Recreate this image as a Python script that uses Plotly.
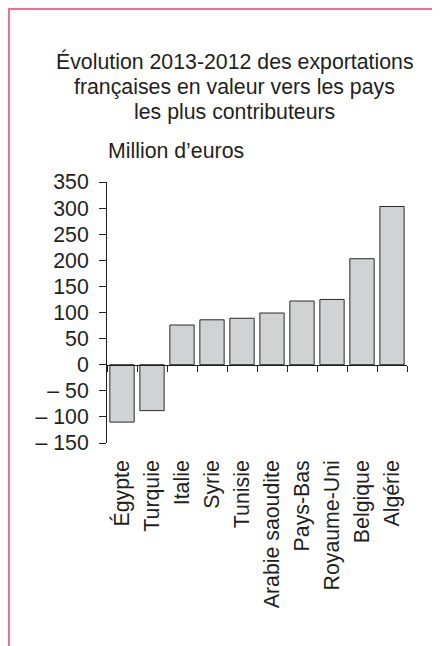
import plotly.graph_objects as go

categories = ["Égypte", "Turquie", "Italie", "Syrie", "Tunisie", "Arabie saoudite",
              "Pays-Bas", "Royaume-Uni", "Belgique", "Algérie"]
values = [-110, -88, 76, 86, 89, 99, 122, 125, 203, 303]
y_ticks = [-150, -100, -50, 0, 50, 100, 150, 200, 250, 300, 350]
y_ticktext = ["– 150", "– 100", "– 50", "0", "50", "100", "150", "200", "250", "300", "350"]
title_lines = ["Évolution 2013-2012 des exportations",
               "françaises en valeur vers les pays",
               "les plus contributeurs"]
unit_label = "Million d’euros"

W, H = 440, 646
OFF = 8  # page offset of the figure (body margin)
ML, MT = 107 - OFF, 182 - OFF
PR, PB = 407 - OFF, 443 - OFF
MR, MB = W - PR, H - PB
PW, PH = PR - ML, PB - MT
FONT = "Liberation Sans, Arial, sans-serif"
TXT = "#231f20"
LINE = "#231f20"
FS = 21.3

def px_x(p):
    return (p - OFF - ML) / PW

def px_y(p):
    return (PB - (p - OFF)) / PH

fig = go.Figure()
fig.add_trace(go.Bar(
    x=categories, y=values,
    marker=dict(color="#d1d2d4", line=dict(color="#2b2b2b", width=1)),
    width=0.81, showlegend=False, hoverinfo="skip",
))
# invisible twin used only to draw the zero axis line with boundary ticks
fig.add_trace(go.Bar(
    x=categories, y=values, xaxis="x2", opacity=0,
    marker=dict(color="rgba(0,0,0,0)", line=dict(width=0)),
    width=0.81, showlegend=False, hoverinfo="skip",
))

ymin, ymax = y_ticks[0], y_ticks[-1]
zero_pos = (0 - ymin) / (ymax - ymin)

fig.update_layout(
    width=W, height=H,
    margin=dict(l=ML, r=MR, t=MT, b=MB, pad=0),
    paper_bgcolor="white", plot_bgcolor="white",
    font=dict(family=FONT, color=TXT, size=FS),
    xaxis=dict(
        type="category", range=[-0.5, len(categories) - 0.5],
        tickangle=-90, showline=False, showgrid=False, zeroline=False,
        ticks="", ticklabelstandoff=12,
        tickfont=dict(size=FS, family=FONT, color=TXT),
    ),
    xaxis2=dict(
        type="category", overlaying="x", anchor="free", position=zero_pos,
        range=[-0.5, len(categories) - 0.5], tickson="boundaries",
        showticklabels=False, ticks="outside", ticklen=6, tickcolor=LINE, tickwidth=1,
        showline=True, linecolor=LINE, linewidth=1,
        showgrid=False, zeroline=False,
    ),
    yaxis=dict(
        range=[ymin, ymax], tickmode="array", tickvals=y_ticks, ticktext=y_ticktext,
        ticks="outside", ticklen=7, tickcolor=LINE, tickwidth=1,
        showline=True, linecolor=LINE, linewidth=1,
        showgrid=False, zeroline=False, ticklabelstandoff=6,
        tickfont=dict(size=FS, family=FONT, color=TXT),
    ),
    bargap=0.19,
)

for i, (line, yc) in enumerate(zip(title_lines, [62, 87, 112])):
    fig.add_annotation(
        text=line, xref="paper", yref="paper",
        x=px_x(234.5), y=px_y(yc), xanchor="center", yanchor="middle",
        showarrow=False, font=dict(size=FS, family=FONT, color=TXT),
    )

fig.add_annotation(
    text=unit_label, xref="paper", yref="paper",
    x=px_x(106), y=px_y(151), xanchor="left", yanchor="middle",
    showarrow=False, font=dict(size=FS, family=FONT, color=TXT),
)

BORDER = "#e9748b"
fig.add_shape(type="line", xref="paper", yref="paper",
              x0=px_x(OFF + 1), x1=px_x(OFF + 1), y0=px_y(OFF), y1=px_y(H + 20),
              line=dict(color=BORDER, width=2))
fig.add_shape(type="line", xref="paper", yref="paper",
              x0=px_x(OFF), x1=px_x(W + 20), y0=px_y(OFF + 1), y1=px_y(OFF + 1),
              line=dict(color=BORDER, width=2))

fig.write_html("out.html")
